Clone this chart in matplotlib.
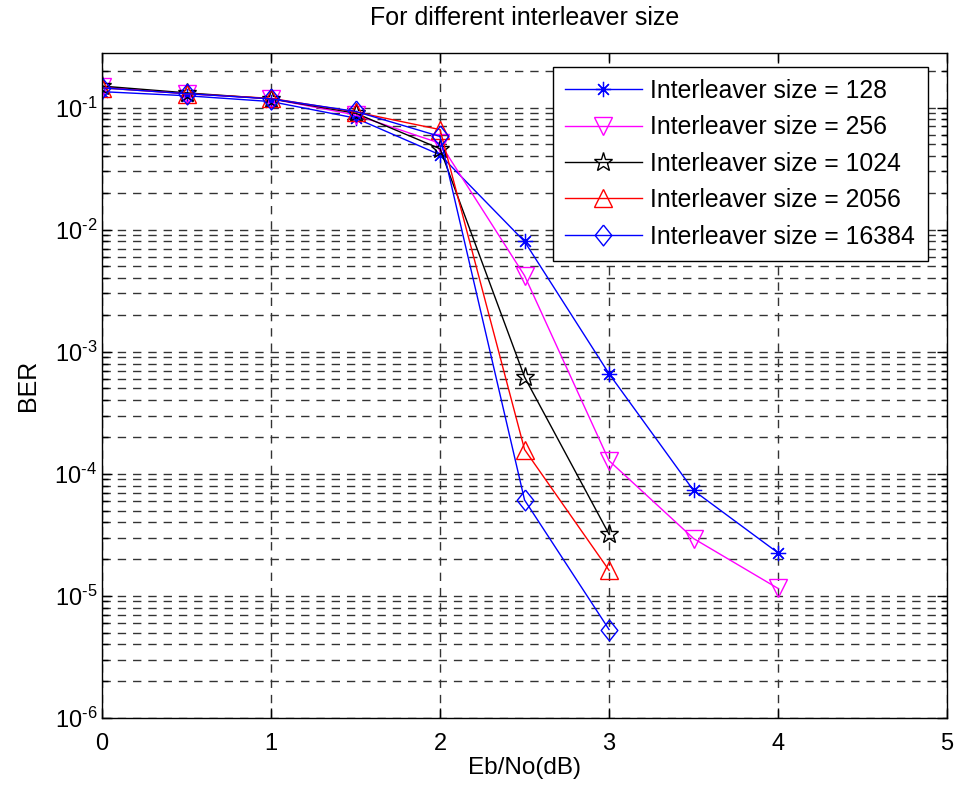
import matplotlib
matplotlib.use('Agg')
import matplotlib.pyplot as plt
from matplotlib.ticker import LogLocator, NullFormatter, MultipleLocator, FuncFormatter
import numpy as np

plt.rcParams['font.family'] = ['Liberation Sans', 'DejaVu Sans']
plt.rcParams['mathtext.fontset'] = 'custom'
plt.rcParams['mathtext.rm'] = 'Liberation Sans'
plt.rcParams['mathtext.default'] = 'regular'
plt.rcParams['axes.unicode_minus'] = False

# Eb/No points (dB)
ebno = [0, 0.5, 1, 1.5, 2, 2.5, 3, 3.5, 4]
ebno_short = [0, 0.5, 1, 1.5, 2, 2.5, 3]

# BER
ber_128 = [0.135, 0.125, 0.112, 0.082, 0.041, 8.0e-3, 6.6e-4, 7.3e-5, 2.25e-5]
ber_256 = [0.148, 0.13, 0.118, 0.087, 0.051, 4.2e-3, 1.28e-4, 2.95e-5, 1.15e-5]
ber_1024 = [0.15, 0.132, 0.118, 0.09, 0.046, 6.2e-4, 3.2e-5]
ber_2056 = [0.145, 0.13, 0.119, 0.092, 0.066, 1.58e-4, 1.62e-5]
ber_16384 = [0.145, 0.13, 0.118, 0.093, 0.058, 6.1e-5, 5.3e-6]

labels = ['Interleaver size = 128', 'Interleaver size = 256',
          'Interleaver size = 1024', 'Interleaver size = 2056',
          'Interleaver size = 16384']

fig = plt.figure(figsize=(9.56, 7.85), dpi=100)
ax = fig.add_axes([0.1067, 0.0854, 0.884, 0.8471])

# matlab style markers
asterisk = (8, 2, 0)
diamond = [(0, 1), (0.8, 0), (0, -1), (-0.8, 0), (0, 1)]

ax.semilogy(ebno, ber_128, color='#0000FF', marker=asterisk, ms=11, mew=0.9,
            lw=1, label=labels[0])
ax.semilogy(ebno, ber_256, color='#FF00FF', marker='v', ms=13, mfc='none',
            mew=1, lw=1, label=labels[1])
ax.semilogy(ebno_short, ber_1024, color='black', marker='*', ms=14,
            mfc='none', mew=1, lw=1, label=labels[2])
ax.semilogy(ebno_short, ber_2056, color='#FF0000', marker='^', ms=13,
            mfc='none', mew=1, lw=1, label=labels[3])
ax.semilogy(ebno_short, ber_16384, color='#0000FF', marker=diamond, ms=15,
            mfc='none', mew=1, lw=1, label=labels[4])

ax.set_xlim(0, 5)
ax.set_ylim(1e-6, 0.28)
ax.xaxis.set_major_locator(MultipleLocator(1))
ax.yaxis.set_major_locator(LogLocator(base=10, numticks=10))
ax.yaxis.set_minor_locator(LogLocator(base=10, subs=range(2, 10), numticks=20))
ax.yaxis.set_minor_formatter(NullFormatter())


def pow10(v, pos):
    e = int(round(np.log10(v)))
    if e < 0:
        return r'$10^{\text{-}%d}$' % (-e)
    return r'$10^{%d}$' % e


ax.yaxis.set_major_formatter(FuncFormatter(pow10))

dash = (0, (6, 5))
ax.grid(True, which='major', axis='both', color='#333333', linestyle=dash, lw=1)
ax.grid(True, which='minor', axis='y', color='#333333', linestyle=dash, lw=1)

ax.tick_params(which='both', direction='in', top=True, right=True,
               labelsize=17)
ax.tick_params(which='major', length=7, width=1)
ax.tick_params(which='minor', length=4, width=1)
ax.tick_params(axis='x', pad=11)
for s in ax.spines.values():
    s.set_linewidth(1)

ax.set_xlabel('Eb/No(dB)', fontsize=17.5, labelpad=1)
ax.set_ylabel('BER', fontsize=18, labelpad=10)
ax.set_title('For different interleaver size', fontsize=18, pad=20)

leg = ax.legend(loc='upper right', bbox_to_anchor=(927.7 / 956, 1 - 66.7 / 785),
                bbox_transform=fig.transFigure, borderaxespad=0,
                fontsize=17.8, fancybox=False, edgecolor='black',
                framealpha=1, handlelength=3.1, handletextpad=0.35,
                labelspacing=0.5, borderpad=0.5)
leg.get_frame().set_linewidth(1)

fig.savefig('out.png', dpi=100)
